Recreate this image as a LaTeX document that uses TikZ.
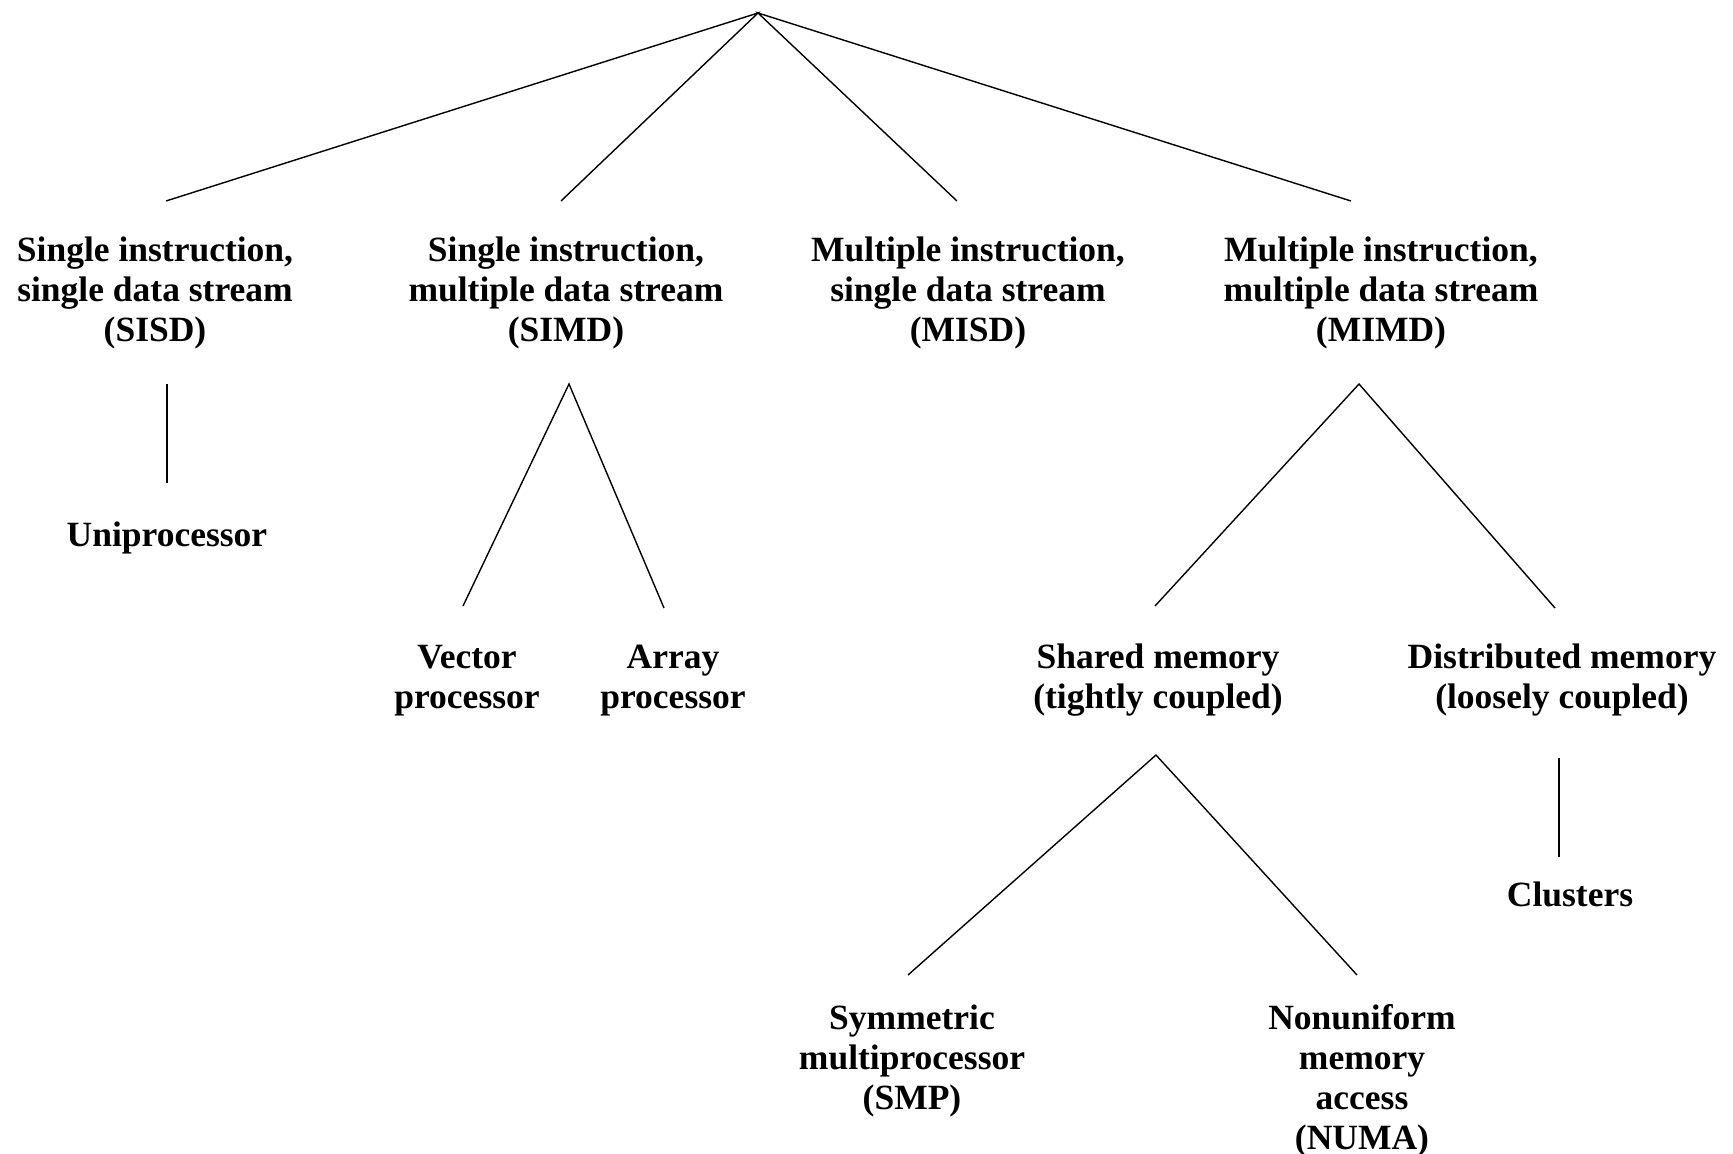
\documentclass[tikz,border=0pt]{standalone}
\usepackage{fontspec}
\setmainfont{Liberation Serif}
\begin{document}
\begin{tikzpicture}[x=1pt,y=-1pt,
  lbl/.style={font=\fontsize{35.5}{40}\selectfont\bfseries, align=center, inner sep=0pt},
  edge/.style={line width=1.4pt}]
\useasboundingbox (0,0) rectangle (1733,1154);
\coordinate (top) at (758,13);
\node[lbl] (sisd) at (155,292.5) {Single instruction,\\single data stream\\(SISD)};
\node[lbl] (simd) at (566,292.5) {Single instruction,\\multiple data stream\\(SIMD)};
\node[lbl] (misd) at (968,292.5) {Multiple instruction,\\single data stream\\(MISD)};
\node[lbl] (mimd) at (1381,292.5) {Multiple instruction,\\multiple data stream\\(MIMD)};
\node[lbl] (uni) at (167,538) {Uniprocessor};
\node[lbl] (vec) at (467,680.5) {Vector\\processor};
\node[lbl] (arr) at (673,680.5) {Array\\processor};
\node[lbl] (shm) at (1158,680.5) {Shared memory\\(tightly coupled)};
\node[lbl] (dsm) at (1562,680.5) {Distributed memory\\(loosely coupled)};
\node[lbl] (clu) at (1570,894) {Clusters};
\node[lbl] (smp) at (912,1060.5) {Symmetric\\multiprocessor\\(SMP)};
\node[lbl] (numa) at (1362,1080.5) {Nonuniform\\memory\\access\\(NUMA)};
% connector points
\coordinate (a1) at (166,201);
\coordinate (a2) at (561,201);
\coordinate (a3) at (957,201);
\coordinate (a4) at (1351,201);
\draw[edge] (a1) -- (top) -- (a2);
\draw[edge] (a3) -- (top) -- (a4);
\coordinate (s1) at (167,384);
\coordinate (s2) at (167,483);
\draw[edge] (s1) -- (s2);
\coordinate (m1) at (569,384);
\coordinate (m2) at (463,606);
\coordinate (m3) at (664,608);
\draw[edge] (m2) -- (m1) -- (m3);
\coordinate (d1) at (1359,384);
\coordinate (d2) at (1155,606);
\coordinate (d3) at (1555,608);
\draw[edge] (d2) -- (d1) -- (d3);
\coordinate (h1) at (1156,755);
\coordinate (h2) at (908,975);
\coordinate (h3) at (1357,975);
\draw[edge] (h2) -- (h1) -- (h3);
\coordinate (c1) at (1559,758);
\coordinate (c2) at (1559,857);
\draw[edge] (c1) -- (c2);
\end{tikzpicture}
\end{document}
